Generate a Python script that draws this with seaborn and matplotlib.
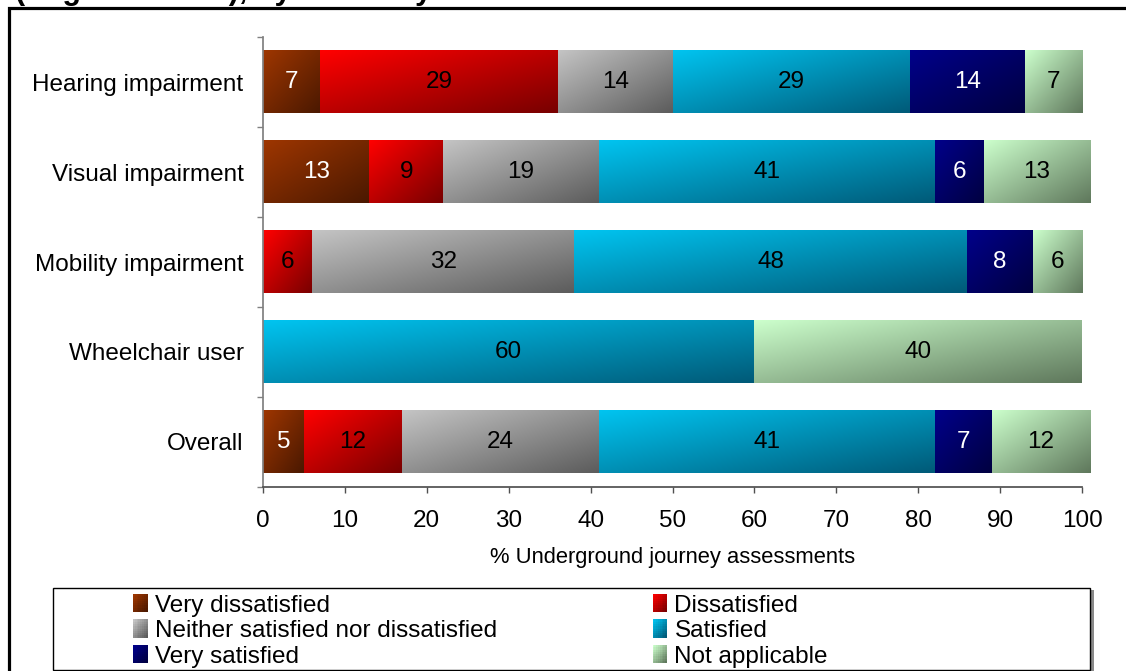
import numpy as np
import pandas as pd
import matplotlib
matplotlib.use("Agg")
import matplotlib.pyplot as plt
import seaborn as sns
from matplotlib.patches import Rectangle
from matplotlib.colors import to_rgb
from matplotlib.legend_handler import HandlerBase

# ---- data -------------------------------------------------------------
groups = ["Hearing impairment", "Visual impairment", "Mobility impairment",
          "Wheelchair user", "Overall"]
responses = ["Very dissatisfied", "Dissatisfied",
             "Neither satisfied nor dissatisfied", "Satisfied",
             "Very satisfied", "Not applicable"]
very_dissatisfied = [7, 13, 0, 0, 5]
dissatisfied = [29, 9, 6, 0, 12]
neither = [14, 19, 32, 0, 24]
satisfied = [29, 41, 48, 60, 41]
very_satisfied = [14, 6, 8, 0, 7]
not_applicable = [7, 13, 6, 40, 12]
series = [very_dissatisfied, dissatisfied, neither, satisfied,
          very_satisfied, not_applicable]

# gradient end colours (top-left light, bottom-right dark) and label colours
light = ["#9E3600", "#FF0000", "#C4C4C4", "#00C4F0", "#00008A", "#CCFFCC"]
dark = ["#4A1800", "#780000", "#5C5C5C", "#005A78", "#000040", "#5F785C"]
text_col = ["white", "black", "black", "black", "white", "black"]

W, H = 1126, 671
sns.set_theme(style="white")
plt.rcParams["font.family"] = ["Liberation Sans", "DejaVu Sans"]
plt.rcParams["text.color"] = "black"
plt.rcParams["axes.labelcolor"] = "black"
plt.rcParams["xtick.color"] = "black"
plt.rcParams["ytick.color"] = "black"

fig = plt.figure(figsize=(W / 100, H / 100), dpi=100)
ax = fig.add_axes([263 / W, 1 - 487 / H, (1082 - 263) / W, (487 - 37) / H])


def gradient_grid(c0, c1, n=64):
    u = np.linspace(0, 1, n)
    t = (u[None, :] + u[:, None]) / 2.0
    c0, c1 = np.array(to_rgb(c0)), np.array(to_rgb(c1))
    return c0 + (c1 - c0) * t[..., None]


df = pd.DataFrame({"group": groups})
starts = np.zeros(len(groups))
for k, (name, vals) in enumerate(zip(responses, series)):
    df[name] = vals
    n_before = len(ax.patches)
    sns.barplot(data=df, x=name, y="group", orient="y", color=light[k],
                saturation=1, width=0.69, errorbar=None, linewidth=0, ax=ax)
    new = ax.patches[n_before:]
    for j, patch in enumerate(new):
        v = vals[j]
        patch.set_x(starts[j])
        patch.set_visible(False)
        if v <= 0:
            continue
        x0, w = starts[j], v
        y0, h = patch.get_y(), patch.get_height()
        ax.imshow(gradient_grid(light[k], dark[k]),
                  extent=(x0, x0 + w, y0 + h, y0), aspect="auto",
                  interpolation="bilinear", clip_on=False, zorder=2)
        ax.text(x0 + w / 2, y0 + h / 2, f"{v}", ha="center", va="center",
                fontsize=17.5, color=text_col[k], zorder=3)
    starts = starts + np.array(vals)

ax.set_xlim(0, 100)
ax.set_ylim(len(groups) - 0.5, -0.5)
ax.set_xticks(np.arange(0, 101, 10))
ax.set_yticks(range(len(groups)))
ax.set_yticklabels(groups)
ax.set_yticks(np.arange(-0.5, len(groups)), minor=True)
ax.set_xlabel("% Underground journey assessments", fontsize=15.8,
              labelpad=11, color="black")
ax.set_ylabel("")
for s in ["top", "right"]:
    ax.spines[s].set_visible(False)
ax.spines["left"].set_color("#808080")
ax.spines["bottom"].set_color("#505050")
ax.tick_params(axis="y", which="major", length=0, pad=14, labelsize=17.5,
               labelcolor="black")
ax.tick_params(axis="y", which="minor", length=4, width=1, color="#808080",
               direction="out", left=True)
ax.tick_params(axis="x", which="major", length=4.5, width=1, color="#505050",
               direction="out", bottom=True, pad=12, labelsize=17.5,
               labelcolor="black")
ax.grid(False)


# ---- legend ------------------------------------------------------------
class GradientSwatch(HandlerBase):
    def __init__(self, c0, c1):
        super().__init__()
        self.c0, self.c1 = c0, c1

    def create_artists(self, legend, orig_handle, xdescent, ydescent,
                       width, height, fontsize, trans):
        n = 8
        grid = gradient_grid(self.c0, self.c1, n)
        arts = []
        for r in range(n):
            for c in range(n):
                rect = Rectangle((-xdescent + c * width / n,
                                  -ydescent + height - (r + 1) * height / n),
                                 width / n + 0.05, height / n + 0.05,
                                 facecolor=grid[r, c], linewidth=0,
                                 antialiased=False, transform=trans)
                arts.append(rect)
        return arts


handles, hmap = [], {}
order = [0, 2, 4, 1, 3, 5]
for k in order:
    hd = Rectangle((0, 0), 1, 1, facecolor=light[k])
    handles.append(hd)
    hmap[hd] = GradientSwatch(light[k], dark[k])
labels = [responses[k] for k in order]

leg = fig.legend(handles, labels, handler_map=hmap, ncol=2, frameon=False,
                 loc="upper left", bbox_to_anchor=(133 / W, 1 - 594 / H),
                 borderpad=0, borderaxespad=0, fontsize=17.5,
                 handlelength=0.6, handleheight=0.78, handletextpad=0.3,
                 labelspacing=0.12, columnspacing=6.4, labelcolor="black")

# legend box with shadow
fig.patches.append(Rectangle((55 / W, 1 - 673 / H), (1092 - 53) / W,
                             (673 - 590) / H, transform=fig.transFigure,
                             facecolor="#8a8a8a", edgecolor="none", zorder=0))
fig.patches.append(Rectangle((53 / W, 1 - 670 / H), (1090 - 53) / W,
                             (670 - 588) / H, transform=fig.transFigure,
                             facecolor="white", edgecolor="black",
                             linewidth=1, zorder=0.5))

# outer frame and page heading running off the top of the page
fig.patches.append(Rectangle((9 / W, -0.2), 1.2, 1 - 7.5 / H + 0.2,
                             transform=fig.transFigure, facecolor="none",
                             edgecolor="black", linewidth=2.3, zorder=0))
fig.text(15 / W, 1 + 1.5 / H, "(Pages 1 and 2), by disability",
         fontsize=22, fontweight="bold", ha="left", va="baseline")

fig.savefig("out.png", dpi=100)
